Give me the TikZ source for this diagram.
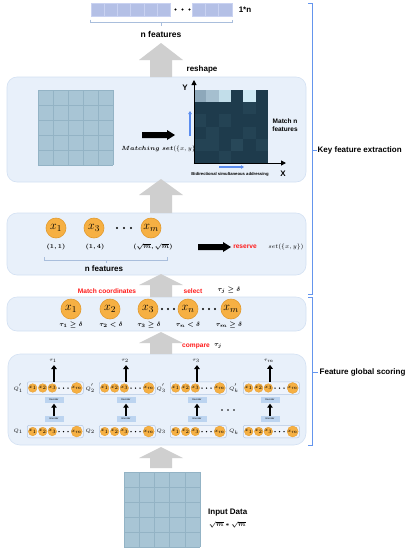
\documentclass[tikz,border=0pt]{standalone}
\usepackage{amsmath,amssymb}
\usepackage{bm}
\usepackage{fontspec}
\setsansfont{Liberation Sans}
\usetikzlibrary{arrows.meta,calc}
\definecolor{panelfill}{HTML}{E8F0FA}
\definecolor{paneldraw}{HTML}{D3E1F3}
\definecolor{barfill}{HTML}{B4C0E6}
\definecolor{barline}{HTML}{C9D2F1}
\definecolor{gridfill}{HTML}{A8C5D5}
\definecolor{gridline}{HTML}{93B3C5}
\definecolor{heatdark}{HTML}{1E3B4C}
\definecolor{grayarr}{HTML}{CFCFCF}
\definecolor{circfill}{HTML}{F6B043}
\definecolor{circdraw}{HTML}{E29A2C}
\definecolor{bracketblue}{HTML}{6495ED}
\definecolor{redtxt}{HTML}{FF1A1A}
\definecolor{codebox}{HTML}{BCD4F0}
\definecolor{qbox}{HTML}{EEF3FB}
\definecolor{qboxdraw}{HTML}{B3C7E2}
\definecolor{bracecol}{HTML}{A9BEDC}
\definecolor{arrblue}{HTML}{5B8DEF}
\definecolor{hA}{HTML}{8DA8BA}
\definecolor{hB}{HTML}{A5BFCF}
\definecolor{hC}{HTML}{C2DEEA}
\definecolor{hD}{HTML}{CFEAF5}
\definecolor{hE}{HTML}{244354}
\definecolor{hF}{HTML}{284859}
\newcommand\bigup[3]{% bottom coord, top coord, head length
  \fill[grayarr] let \p1=(#1), \p2=(#2) in
    (\x1-11pt,\y1) -- (\x1-11pt,\y2-#3pt) -- (\x1-22pt,\y2-#3pt) -- (\x2,\y2)
    -- (\x1+22pt,\y2-#3pt) -- (\x1+11pt,\y2-#3pt) -- (\x1+11pt,\y1) -- cycle;}
\newcommand\blkright[2]{% start coord, tip coord
  \fill[black] let \p1=(#1), \p2=(#2) in
    (\x1,\y1+3pt) -- (\x2-8pt,\y1+3pt) -- (\x2-8pt,\y1+5pt) -- (\x2,\y1)
    -- (\x2-8pt,\y1-5pt) -- (\x2-8pt,\y1-3pt) -- (\x1,\y1-3pt) -- cycle;}
\tikzset{
  panel/.style={draw=paneldraw, fill=panelfill, line width=0.6pt, rounded corners=10pt, inner sep=0pt},
  barcell/.style={fill=barfill, draw=barline, line width=0.5pt},
  gcell/.style={draw=gridline, line width=0.4pt},
  lab/.style={font=\sffamily\bfseries\fontsize{8}{9}\selectfont, inner sep=0pt},
  redlab/.style={text=redtxt, font=\sffamily\bfseries\fontsize{6.6}{7}\selectfont, inner sep=0pt},
  bigc/.style={circle, fill=circfill, draw=circdraw, line width=0.6pt, minimum size=20pt, inner sep=0pt, font=\fontsize{13}{14}\selectfont},
  smallc/.style={circle, fill=circfill, draw=circdraw, line width=0.3pt, minimum size=8pt, inner sep=0pt, font=\fontsize{3}{3}\selectfont},
  mlab/.style={font=\fontsize{6}{7}\selectfont, inner sep=0pt},
  tinylab/.style={font=\fontsize{5}{6}\selectfont, inner sep=0pt},
  qboxst/.style={draw=qboxdraw, fill=qbox, line width=0.5pt, rounded corners=2pt, minimum width=56pt, minimum height=12.5pt, inner sep=0pt},
  codest/.style={fill=codebox, minimum width=19pt, minimum height=6pt, inner sep=0pt, font=\sffamily\fontsize{2.4}{2.6}\selectfont},
  blkup/.style={line width=1.8pt, -{Triangle[width=5.5pt,length=4pt]}},
  axis/.style={line width=1pt, -{Triangle[width=5pt,length=5pt]}},
  barr/.style={draw=arrblue, line width=1.2pt, -{Triangle[width=3.5pt,length=3pt]}},
  brk/.style={draw=bracketblue, line width=0.8pt},
  dotst/.style={circle, fill=black, inner sep=0pt, minimum size=2.2pt},
}
\begin{document}
\begin{tikzpicture}[x=1pt,y=-1pt]
\useasboundingbox (0,0) rectangle (413,550);
\fill[white] (0,0) rectangle (413,550);

% ---------- top 1*n bar ----------
\foreach \i in {0,...,5} \draw[barcell] (91+\i*13.2,3) rectangle ++(13.2,13);
\foreach \i in {0,1,2} \draw[barcell] (192+\i*13.33,3) rectangle ++(13.33,13);
\foreach \xx in {175.5,182.5,189.5} \node[dotst] at (\xx,9.5) {};
\node[lab] (onen) at (245,9.5) {1*n};
\draw[bracecol, line width=0.6pt] (90,19.5) -- (90,22.5) -- (232,22.5) -- (232,19.5);
\draw[bracecol, line width=0.6pt] (161,22.5) -- (161,26);
\node[lab, font=\sffamily\bfseries\fontsize{8.5}{9}\selectfont] (nfeat1) at (161,34) {n features};
\node[lab] (reshape) at (202,69) {reshape};

% ---------- panels ----------
\node[panel, minimum width=299pt, minimum height=105pt] (p1) at (156.5,129.5) {};
\node[panel, minimum width=299pt, minimum height=62pt] (p2) at (156.5,244) {};
\node[panel, minimum width=299pt, minimum height=34pt] (p3) at (156.5,314) {};
\node[panel, rounded corners=12pt, minimum width=298pt, minimum height=91pt] (p4) at (157,399.5) {};

% ---------- gray arrows ----------
\coordinate (a0b) at (161,77);  \coordinate (a0t) at (161,43);
\coordinate (a1b) at (161,213); \coordinate (a1t) at (161,179);
\coordinate (a2b) at (161,297); \coordinate (a2t) at (161,274);
\coordinate (a3b) at (161,354); \coordinate (a3t) at (161,332);
\coordinate (a4b) at (161,468); \coordinate (a4t) at (161,447);
\bigup{a0b}{a0t}{17}
\bigup{a1b}{a1t}{16}
\bigup{a2b}{a2t}{11}
\bigup{a3b}{a3t}{11}
\bigup{a4b}{a4t}{11}

% ---------- panel 1 ----------
\fill[gridfill] (38,90) rectangle (113,165);
\foreach \i in {0,...,5} {
  \draw[gcell] (38+\i*15,90) -- (38+\i*15,165);
  \draw[gcell] (38,90+\i*15) -- (113,90+\i*15);
}
\coordinate (k1s) at (142,135); \coordinate (k1t) at (175,135);
\blkright{k1s}{k1t}
\node[mlab] (matching) at (160,149) {$\bm{Matching\ set}(\{x,y\})$};

% heatmap
\fill[heatdark] (194,90) rectangle (268,163);
\fill[hA] (194,90) rectangle ++(12.33,12.17);
\fill[hB] (206.33,90) rectangle ++(12.33,12.17);
\fill[hC] (218.67,90) rectangle ++(12.33,12.17);
\fill[hD] (243.33,90) rectangle ++(12.33,12.17);
\foreach \c/\r/\col in {0/2/hE, 2/2/hE, 4/3/hE, 0/4/hE, 1/4/hE, 3/4/hF, 4/1/hE, 1/3/hE, 2/5/hE, 5/4/hE} {
  \fill[\col] (194+\c*12.33,90+\r*12.17) rectangle ++(12.33,12.17);
}
\draw[axis] (194,163.5) -- (194,80);
\draw[axis] (193.5,163) -- (286,163);
\node[lab] (ylab) at (185,88) {Y};
\node[lab] (xlab) at (283,174) {X};
\draw[barr] (190,136) -- (190,111);
\draw[barr] (219,167) -- (244,167);
\node[font=\sffamily\bfseries\fontsize{4.2}{5}\selectfont, inner sep=0pt] (bidir) at (230,174.5) {Bidirectional simultaneous addressing};
\node[font=\sffamily\bfseries\fontsize{6.5}{8.2}\selectfont, align=center, inner sep=0pt] (matchn) at (285,125) {Match n\\features};

% ---------- panel 2 ----------
\node[bigc] (c21) at (56,228) {$x_1$};
\node[bigc] (c23) at (94,228) {$x_3$};
\node[bigc] (c2m) at (151,228) {$x_m$};
\foreach \xx in {117,124,131} \node[dotst] at (\xx,228) {};
\node[mlab] (l21) at (56,247) {$\bm{(1,1)}$};
\node[mlab] (l23) at (95,247) {$\bm{(1,4)}$};
\node[mlab] (l2m) at (153,247) {$\bm{(\sqrt{m},\sqrt{m})}$};
\draw[bracecol, line width=0.6pt] (44,257) -- (44,260) -- (167,260) -- (167,257);
\draw[bracecol, line width=0.6pt] (106,260) -- (106,263);
\node[lab] (nfeat2) at (104,269) {n features};
\coordinate (k2s) at (198,247); \coordinate (k2t) at (231,247);
\blkright{k2s}{k2t}
\node[redlab] (reserve) at (245,247) {reserve};
\node[mlab] (setxy) at (286,247) {$set(\{x,y\})$};

% between 2 and 3
\node[redlab] (matchc) at (107,291) {Match coordinates};
\node[redlab] (select) at (193,291) {select};
\node[mlab] (tauj) at (229,290) {$\bm{\tau_j\geq\delta}$};

% ---------- panel 3 ----------
\node[bigc] (c31) at (71,309) {$x_1$};
\node[bigc] (c32) at (110,309) {$x_2$};
\node[bigc] (c33) at (148,309) {$x_3$};
\node[bigc] (c3n) at (188,309) {$x_n$};
\node[bigc] (c3m) at (231,309) {$x_m$};
\foreach \xx in {162,168,174,203,209,215} \node[dotst] at (\xx,309) {};
\node[mlab] (t31) at (71,325) {$\bm{\tau_1\geq\delta}$};
\node[mlab] (t32) at (111,325) {$\bm{\tau_2<\delta}$};
\node[mlab] (t33) at (149,325) {$\bm{\tau_3\geq\delta}$};
\node[mlab] (t3n) at (188,325) {$\bm{\tau_n<\delta}$};
\node[mlab] (t3m) at (229,325) {$\bm{\tau_m\geq\delta}$};

% between 3 and 4
\node[redlab] (compare) at (196,346) {compare};
\node[mlab] (tauj2) at (218,346) {$\bm{\tau_j}$};

% ---------- panel 4 ----------
\foreach \xc/\k/\t in {54/1/1, 126/2/2, 197/3/3, 270/k/m} {
  \node[tinylab] (tau\k) at (\xc-1,361) {$\tau_{\t}$};
  \node[qboxst] (qp\k) at (\xc+1.3,388) {};
  \node[qboxst] (q\k) at (\xc+1.3,431.5) {};
  \node[codest] (dec\k) at (\xc,399.5) {Decoder};
  \node[codest] (enc\k) at (\xc,419) {Encoder};
  \foreach \yy/\nm in {388/qp, 431.5/q} {
    \node[smallc] at (\xc-21.3,\yy) {$x_1$};
    \node[smallc] at (\xc-11.3,\yy) {$x_2$};
    \node[smallc] at (\xc-1.7,\yy) {$x_3$};
    \node[smallc] at (\xc+22.7,\yy) {$x_m$};
    \foreach \dd in {5,9.5,14} \node[circle, fill=black, inner sep=0pt, minimum size=1.5pt] at (\xc+\dd,\yy) {};
  }
  \node[tinylab, anchor=east] (qpl\k) at ($(qp\k.west)+(-4pt,0)$) {$Q^{'}_{\k}$};
  \node[tinylab, anchor=east] (ql\k) at ($(q\k.west)+(-4pt,0)$) {$Q_{\k}$};
  \draw[blkup] (qp\k.north -| dec\k) -- ($(tau\k.south -| dec\k)+(0,-2pt)$);
  \draw[blkup] (enc\k.north) -- ($(dec\k.south)+(0,-1pt)$);
}
\foreach \xx in {222,228,234} \node[circle, fill=black, inner sep=0pt, minimum size=1.6pt] at (\xx,410) {};

% ---------- input ----------
\fill[gridfill] (124,472) rectangle (200,547);
\foreach \i in {0,...,5} {
  \draw[gcell] (124+\i*15.2,472) -- (124+\i*15.2,547);
  \draw[gcell] (124,472+\i*15) -- (200,472+\i*15);
}
\node[lab, anchor=west] (inputd) at (208,513) {Input Data};
\node[mlab, anchor=west] (sqm) at (209,525) {$\bm{\sqrt{m}*\sqrt{m}}$};

% ---------- right brackets ----------
\draw[brk] (308,3.5) -- (312,3.5) -- (312,294) -- (308,294);
\draw[brk] (312,150) -- (317,150);
\node[lab, anchor=west] (kfe) at (317.5,150) {Key feature extraction};
\draw[brk] (308,297) -- (312,297) -- (312,445) -- (308,445);
\draw[brk] (312,372) -- (318,372);
\node[lab, anchor=west] (fgs) at (319.5,372) {Feature global scoring};
\end{tikzpicture}
\end{document}
